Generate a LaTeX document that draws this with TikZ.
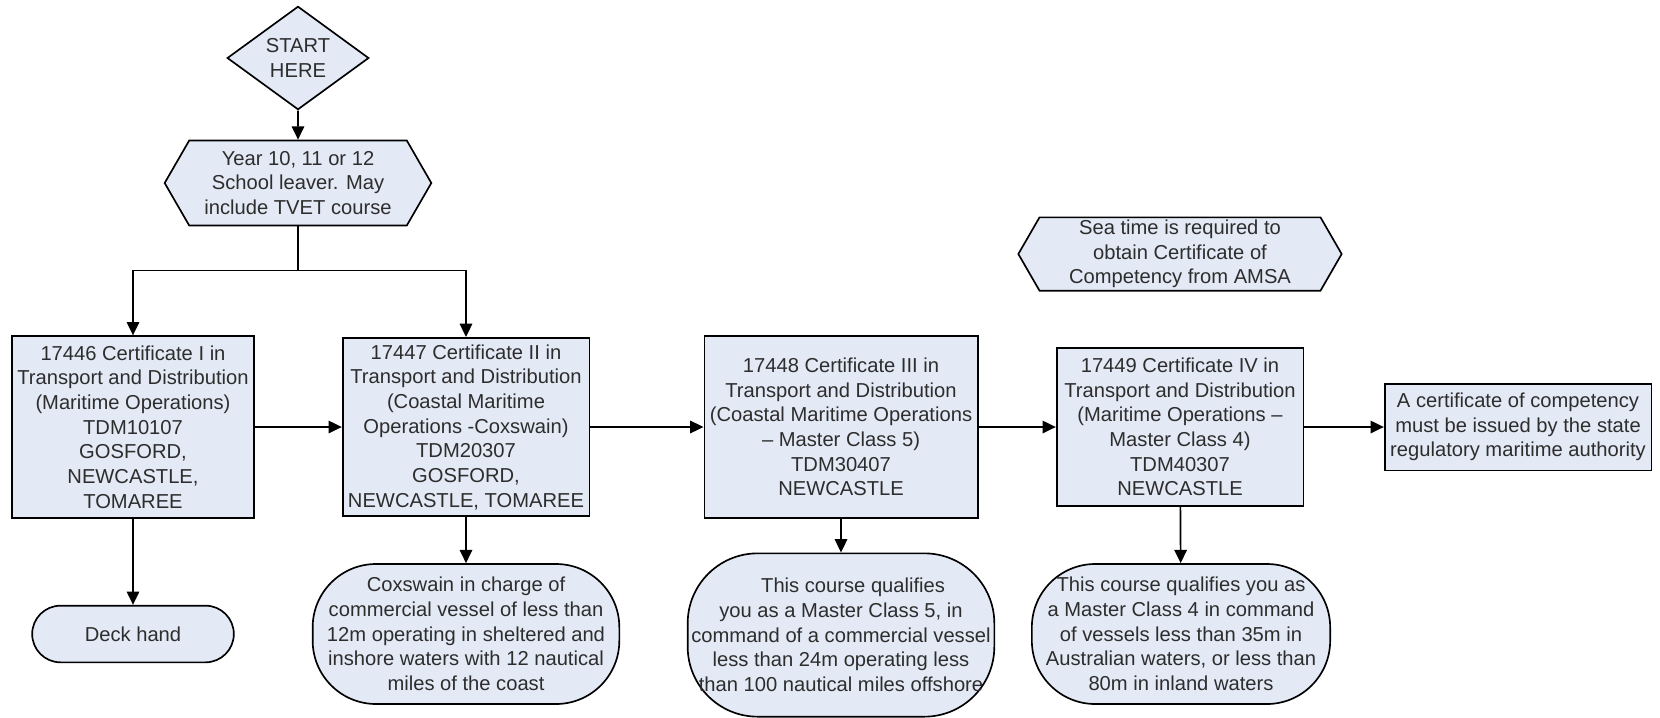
\documentclass[tikz,border=0pt]{standalone}
\usepackage{fontspec}
\setmainfont{Liberation Sans}
\usepackage{xcolor}
\usepackage{tikz}
\usetikzlibrary{shapes.geometric, shapes.symbols, arrows.meta, positioning}

\definecolor{boxfill}{RGB}{227,233,245}
\definecolor{boxtext}{RGB}{45,45,45}

\tikzset{
  base/.style={draw=black, line width=1pt, fill=boxfill, text=boxtext, align=center,
    inner sep=1pt, font=\fontsize{12.1}{14.8}\selectfont},
  startbox/.style={base, diamond, aspect=1.4, inner sep=0pt},
  hexbox/.style={base, signal, signal to=east and west, signal pointer angle=120},
  certbox/.style={base, rectangle},
  outbox/.style={base, rectangle, rounded corners=#1},
  arr/.style={line width=1pt, -{Triangle[length=8pt,width=7.5pt]}}
}

\begin{document}
\begin{tikzpicture}[x=0.6pt, y=-0.6pt]
    \useasboundingbox (0,0) rectangle (1660,717);

    % Inizio
    \node[startbox, minimum width=85pt, minimum height=62pt] (start) at (298,58) {START\\HERE};
    \node[hexbox, minimum width=160pt, minimum height=51pt] (year) at (298,183)
        {Year 10, 11 or 12\\School leaver. May\\include TVET course};
    \node[hexbox, minimum width=194pt, minimum height=44pt] (sea) at (1180,254)
        {Sea time is required to\\obtain Certificate of\\Competency from AMSA};

    % Certificati
    \node[certbox, minimum width=145pt, minimum height=109pt] (cert1) at (133,427)
        {17446 Certificate I in\\Transport and Distribution\\(Maritime Operations)\\TDM10107\\GOSFORD,\\NEWCASTLE,\\TOMAREE};
    \node[certbox, minimum width=148pt, minimum height=107pt] (cert2) at (466,427)
        {17447 Certificate II in\\Transport and Distribution\\(Coastal Maritime\\Operations -Coxswain)\\TDM20307\\GOSFORD,\\NEWCASTLE, TOMAREE};
    \node[certbox, minimum width=164pt, minimum height=109pt] (cert3) at (841,427)
        {17448 Certificate III in\\Transport and Distribution\\(Coastal Maritime Operations\\– Master Class 5)\\TDM30407\\NEWCASTLE};
    \node[certbox, minimum width=148pt, minimum height=95pt] (cert4) at (1180,427)
        {17449 Certificate IV in\\Transport and Distribution\\(Maritime Operations –\\Master Class 4)\\TDM40307\\NEWCASTLE};
    \node[certbox, minimum width=160pt, minimum height=52pt] (coc) at (1518,427)
        {A certificate of competency\\must be issued by the state\\regulatory maritime authority};

    % Sbocchi
    \node[outbox=17pt, minimum width=121pt, minimum height=34pt] (deck) at (133,634) {Deck hand};
    \node[outbox=38pt, minimum width=184pt, minimum height=84pt] (coxswain) at (466,634)
        {Coxswain in charge of\\commercial vessel of less than\\12m operating in sheltered and\\inshore waters with 12 nautical\\miles of the coast};
    \node[outbox=42pt, minimum width=184pt, minimum height=98pt] (master5) at (841,635)
        {\hspace{1.2em}This course qualifies\\you as a Master Class 5, in\\command of a commercial vessel\\less than 24m operating less\\than 100 nautical miles offshore};
    \node[outbox=38pt, minimum width=179pt, minimum height=84pt] (master4) at (1181,634)
        {This course qualifies you as\\a Master Class 4 in command\\of vessels less than 35m in\\Australian waters, or less than\\80m in inland waters};

    \draw[arr] (start) -- (year);
    \draw[arr] (year.south) -- ++(0,44) -| (cert1.north);
    \draw[arr] (year.south) -- ++(0,44) -| (cert2.north);
    \draw[arr] (cert1) -- (cert2);
    \draw[arr] (cert2) -- (cert3);
    \draw[arr] (cert3) -- (cert4);
    \draw[arr] (cert4) -- (coc);
    \draw[arr] (cert1) -- (deck);
    \draw[arr] (cert2) -- (coxswain);
    \draw[arr] (cert3) -- (master5);
    \draw[arr] (cert4) -- (master4);
    \end{tikzpicture}
\end{document}
